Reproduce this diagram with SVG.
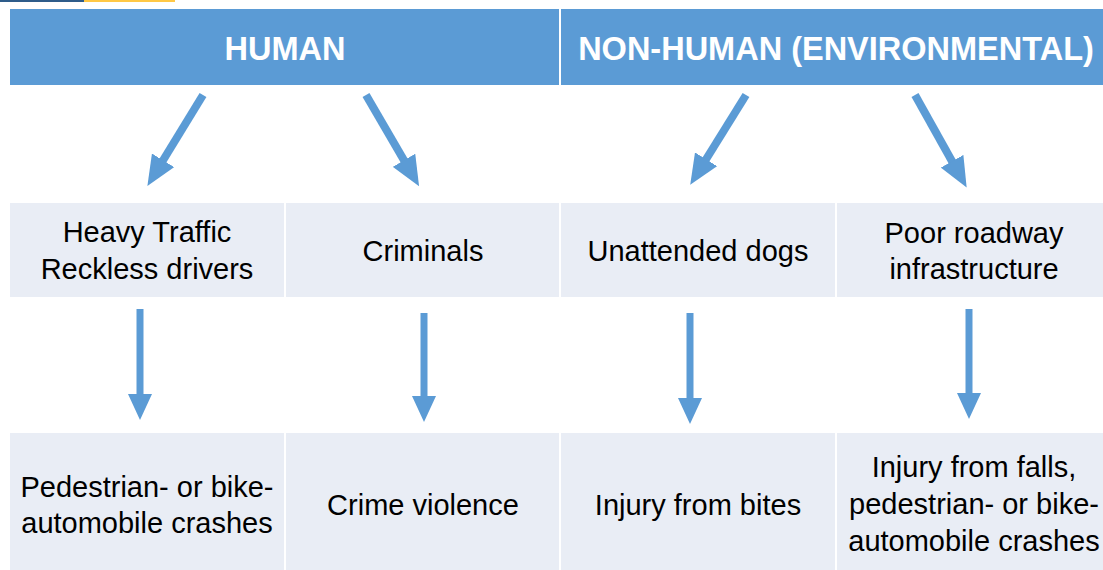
<svg xmlns="http://www.w3.org/2000/svg" width="1103" height="570" viewBox="0 0 1103 570">
<style>
.hdr{fill:#5B9BD5}
.cell{fill:#E9EDF5}
.ht{font-family:"Liberation Sans",Arial,sans-serif;font-weight:bold;font-size:32.5px;fill:#FFFFFF;text-anchor:middle}
.t{font-family:"Liberation Sans",Arial,sans-serif;font-size:29px;fill:#000000;text-anchor:middle}
.ar{stroke:#5B9BD5;stroke-width:8;fill:none;marker-end:url(#ah)}
.arv{stroke:#5B9BD5;stroke-width:7;fill:none;marker-end:url(#ahv)}
</style>
<defs>
<marker id="ah" markerUnits="userSpaceOnUse" viewBox="0 0 30 26" refX="2" refY="13" markerWidth="30" markerHeight="26" orient="auto">
<path d="M0,0 L30,13 L0,26 Z" fill="#5B9BD5"/>
</marker>
<marker id="ahv" markerUnits="userSpaceOnUse" viewBox="0 0 26 24" refX="2" refY="12" markerWidth="26" markerHeight="24" orient="auto">
<path d="M0,0 L26,12 L0,24 Z" fill="#5B9BD5"/>
</marker>
</defs>
<rect x="0" y="0" width="84" height="2" fill="#2E5C8A"/>
<rect x="84" y="0" width="91" height="2" fill="#FFC845"/>
<g id="header-human">
<rect class="hdr" x="10" y="9" width="549" height="76"/>
<text class="ht" x="285" y="60">HUMAN</text>
</g>
<g id="header-nonhuman">
<rect class="hdr" x="561" y="9" width="542" height="76"/>
<text class="ht" x="836" y="60">NON-HUMAN (ENVIRONMENTAL)</text>
</g>
<g id="cause-traffic">
<rect class="cell" x="10" y="203" width="274" height="94"/>
<text class="t" x="147" y="242">Heavy Traffic</text>
<text class="t" x="147" y="279">Reckless drivers</text>
</g>
<g id="cause-criminals">
<rect class="cell" x="286" y="203" width="273" height="94"/>
<text class="t" x="423" y="261">Criminals</text>
</g>
<g id="cause-dogs">
<rect class="cell" x="561" y="203" width="274" height="94"/>
<text class="t" x="698" y="261">Unattended dogs</text>
</g>
<g id="cause-roadway">
<rect class="cell" x="837" y="203" width="266" height="94"/>
<text class="t" x="974" y="243">Poor roadway</text>
<text class="t" x="974" y="279">infrastructure</text>
</g>
<g id="effect-crashes">
<rect class="cell" x="10" y="433" width="274" height="137"/>
<text class="t" x="147" y="497">Pedestrian- or bike-</text>
<text class="t" x="147" y="533">automobile crashes</text>
</g>
<g id="effect-violence">
<rect class="cell" x="286" y="433" width="273" height="137"/>
<text class="t" x="423" y="515">Crime violence</text>
</g>
<g id="effect-bites">
<rect class="cell" x="561" y="433" width="274" height="137"/>
<text class="t" x="698" y="515">Injury from bites</text>
</g>
<g id="effect-falls">
<rect class="cell" x="837" y="433" width="266" height="137"/>
<text class="t" x="974" y="477">Injury from falls,</text>
<text class="t" x="974" y="514">pedestrian- or bike-</text>
<text class="t" x="974" y="551">automobile crashes</text>
</g>
<g id="connectors">
<line class="ar" x1="203" y1="95" x2="162" y2="162"/>
<line class="ar" x1="366" y1="95" x2="405" y2="162"/>
<line class="ar" x1="746" y1="95" x2="705" y2="161"/>
<line class="ar" x1="915" y1="95" x2="953" y2="163"/>
<line class="arv" x1="140" y1="309" x2="140" y2="396"/>
<line class="arv" x1="424" y1="313" x2="424" y2="398"/>
<line class="arv" x1="690" y1="313" x2="690" y2="400"/>
<line class="arv" x1="969" y1="309" x2="969" y2="395"/>
</g>
</svg>
